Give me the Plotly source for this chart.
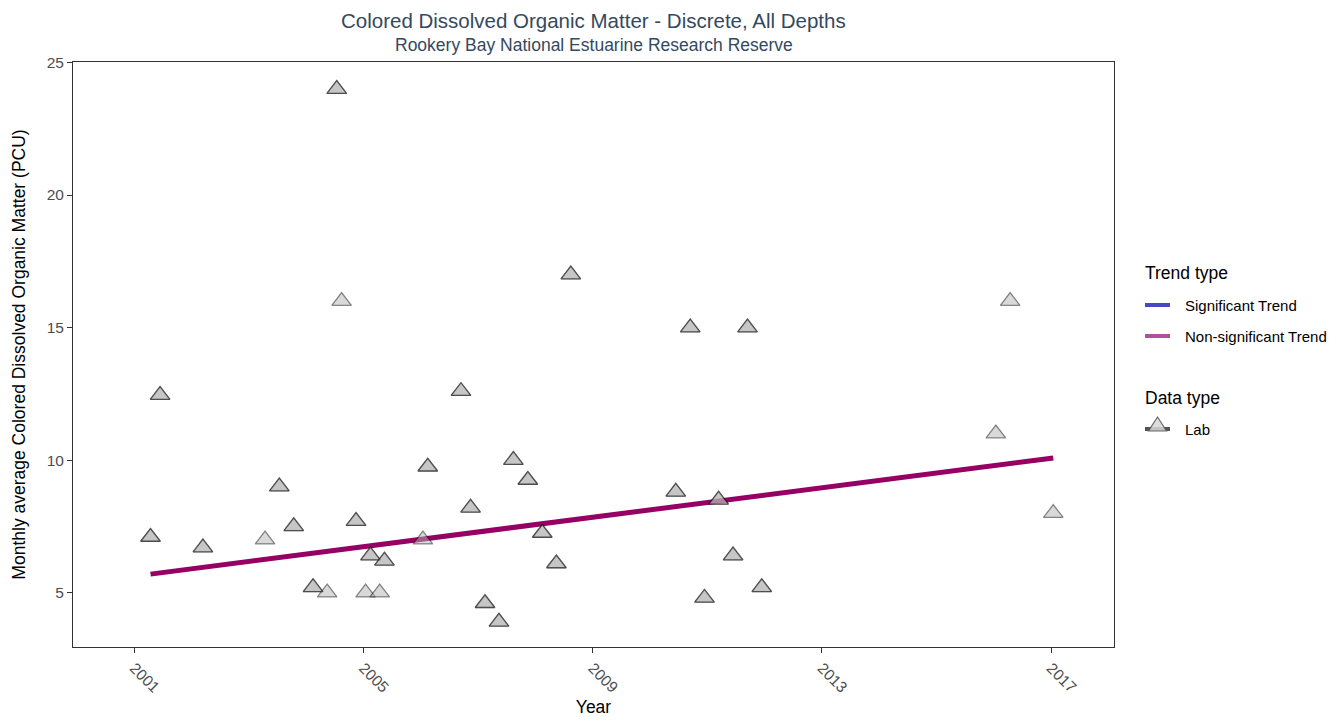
import plotly.graph_objects as go

# ---- data ----
sample_dates = ["2001-04-15", "2001-06-15", "2002-03-15", "2003-04-15", "2003-07-15", "2003-10-15",
                "2004-02-15", "2004-05-15", "2004-07-15", "2004-08-15", "2004-11-15", "2005-01-15",
                "2005-02-15", "2005-04-15", "2005-05-15", "2006-01-15", "2006-02-15", "2006-09-15",
                "2006-11-15", "2007-02-15", "2007-05-15", "2007-08-15", "2007-11-15", "2008-02-15",
                "2008-05-15", "2008-08-15", "2010-06-15", "2010-09-15", "2010-12-15", "2011-03-15",
                "2011-06-15", "2011-09-15", "2011-12-15", "2016-01-15", "2016-04-15", "2017-01-15"]
cdom_values = [7.1, 12.45, 6.7, 7.0, 9.0, 7.5,
               5.2, 5.0, 24.0, 16.0, 7.7, 5.0,
               6.4, 5.0, 6.2, 7.0, 9.75, 12.6,
               8.2, 4.6, 3.9, 10.0, 9.25, 7.25,
               6.1, 17.0, 8.8, 15.0, 4.8, 8.5,
               6.4, 15.0, 5.2, 11.0, 16.0, 8.0]
# number of overlapping observations plotted at each point
n_obs = [2, 2, 2, 1, 2, 2,
         2, 1, 2, 1, 2, 1,
         2, 1, 2, 1, 2, 2,
         2, 2, 2, 2, 2, 2,
         2, 2, 2, 2, 2, 2,
         2, 2, 2, 1, 1, 1]
trend_dates = ["2001-04-15", "2017-01-15"]
trend_values = [5.7, 10.08]
x_ticks = ["2001-01-01", "2005-01-01", "2009-01-01", "2013-01-01", "2017-01-01"]
x_tick_labels = ["2001", "2005", "2009", "2013", "2017"]
y_ticks = [5, 10, 15, 20, 25]
trend_legend_title = "Trend type"
trend_legend_labels = ["Significant Trend", "Non-significant Trend"]
data_legend_title = "Data type"
data_legend_labels = ["Lab"]

FONT = "Liberation Sans, Arial, sans-serif"
fill_col = "rgba(179,179,179,0.5)"
edge_col = "rgba(0,0,0,0.45)"
trend_legend_colors = ["#4848c4", "#b0509f"]
msize = 17

# plot area geometry (figure pixels)
W, H = 1324, 709
ML, MR, MT, MB = 65, 218, 54, 70
PW, PH = W - ML - MR, H - MT - MB


def px(xpix):
    return (xpix - ML) / PW


def py(ypix):
    return (H - MB - ypix) / PH


fig = go.Figure()

# trend line
fig.add_trace(go.Scatter(x=trend_dates, y=trend_values, mode="lines", showlegend=False,
                         line=dict(color="#960064", width=5), hoverinfo="skip"))

# points: one layer for all observations, then a second layer where two overlap
fig.add_trace(go.Scatter(x=sample_dates, y=cdom_values, mode="markers", showlegend=False,
                         marker=dict(symbol="triangle-up", size=msize, color=fill_col,
                                     line=dict(color=edge_col, width=1.3))))
dup_x = [d for d, n in zip(sample_dates, n_obs) if n > 1]
dup_y = [v for v, n in zip(cdom_values, n_obs) if n > 1]
fig.add_trace(go.Scatter(x=dup_x, y=dup_y, mode="markers", showlegend=False,
                         marker=dict(symbol="triangle-up", size=msize, color=fill_col,
                                     line=dict(color=edge_col, width=1.3))))

axis_common = dict(showline=True, linecolor="#333333", linewidth=1, mirror=True,
                   ticks="outside", ticklen=5, tickcolor="#333333", tickwidth=1,
                   showgrid=False, zeroline=False, automargin=False,
                   tickfont=dict(family=FONT, size=15.5, color="#4d4d4d"))

fig.update_xaxes(type="date", range=["1999-12-08", "2018-02-06"],
                 tickmode="array", tickvals=x_ticks, ticktext=x_tick_labels, tickangle=45,
                 title=dict(text="Year", font=dict(family=FONT, size=17.5, color="#000000"), standoff=23),
                 **axis_common)
fig.update_yaxes(range=[2.95, 25.02], tickmode="array", tickvals=y_ticks,
                 title=dict(text="Monthly average Colored Dissolved Organic Matter (PCU)",
                            font=dict(family=FONT, size=17.5, color="#000000"), standoff=16),
                 **axis_common)

# ---- titles and legend (drawn as text + symbols, positioned like the reference) ----
annotations = [
    dict(text="Colored Dissolved Organic Matter - Discrete, All Depths", xref="paper", yref="paper",
         x=0.5, y=1, yshift=42, showarrow=False, xanchor="center", yanchor="middle",
         font=dict(family=FONT, size=20.5, color="#34495e")),
    dict(text="Rookery Bay National Estuarine Research Reserve", xref="paper", yref="paper",
         x=0.5, y=1, yshift=17, showarrow=False, xanchor="center", yanchor="middle",
         font=dict(family=FONT, size=17.5, color="#34495e")),
]
shapes = []
LX = 1135              # legend title left (figure px)
SX0, SX1 = 1137, 1162  # key symbol span
TX = 1175              # item text left

annotations.append(dict(text=trend_legend_title, xref="paper", yref="paper", x=px(LX), y=py(265),
                        xanchor="left", yanchor="middle", showarrow=False,
                        font=dict(family=FONT, size=17.5, color="#000000")))
for i, (lab, col) in enumerate(zip(trend_legend_labels, trend_legend_colors)):
    yy = 297 + 31 * i
    shapes.append(dict(type="line", xref="paper", yref="paper", x0=px(SX0), x1=px(SX1),
                       y0=py(yy), y1=py(yy), line=dict(color=col, width=4)))
    annotations.append(dict(text=lab, xref="paper", yref="paper", x=px(TX), y=py(yy),
                            xanchor="left", yanchor="middle", showarrow=False,
                            font=dict(family=FONT, size=15, color="#000000")))

annotations.append(dict(text=data_legend_title, xref="paper", yref="paper", x=px(LX), y=py(390),
                        xanchor="left", yanchor="middle", showarrow=False,
                        font=dict(family=FONT, size=17.5, color="#000000")))
for i, lab in enumerate(data_legend_labels):
    yy = 421 + 31 * i
    shapes.append(dict(type="line", xref="paper", yref="paper", x0=px(SX0), x1=px(SX1),
                       y0=py(yy), y1=py(yy), line=dict(color="rgba(40,40,40,0.8)", width=4)))
    shapes.append(dict(type="path", xref="paper", yref="paper", xsizemode="pixel", ysizemode="pixel",
                       xanchor=px((SX0 + SX1) / 2), yanchor=py(yy - 2),
                       path="M-9,-4 L9,-4 L0,10 Z", fillcolor="rgba(215,215,215,0.85)",
                       line=dict(color="rgba(90,90,90,0.9)", width=1.2)))
    annotations.append(dict(text=lab, xref="paper", yref="paper", x=px(TX), y=py(yy),
                            xanchor="left", yanchor="middle", showarrow=False,
                            font=dict(family=FONT, size=15, color="#000000")))

fig.update_layout(
    width=W, height=H,
    margin=dict(l=ML, r=MR, t=MT, b=MB),
    plot_bgcolor="white", paper_bgcolor="white",
    font=dict(family=FONT, size=15, color="#000000"),
    showlegend=False,
    annotations=annotations,
    shapes=shapes,
)

fig.write_html("out.html")
